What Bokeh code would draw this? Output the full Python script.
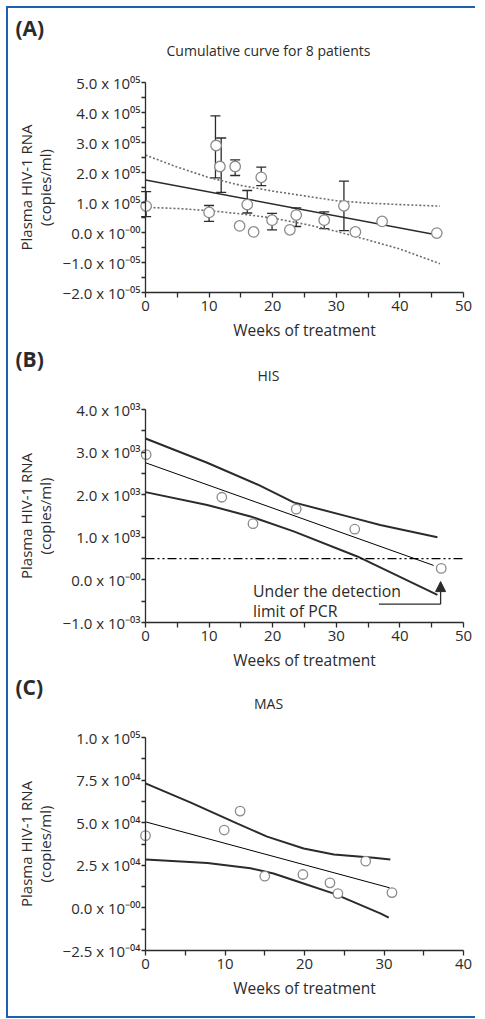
from bokeh.plotting import figure
from bokeh.models import (ColumnDataSource, Whisker, TeeHead, FixedTicker, Label,
                          Arrow, NormalHead, Range1d)
from bokeh.layouts import column
from bokeh.embed import file_html
from bokeh.resources import INLINE

FONT = "Open Sans"
INK = "#2b2b2b"
BLUE = "#1f5fad"
MARK = "#8a8a8a"

# ---------------- Panel A: cumulative curve for 8 patients ----------------
a_weeks = [0.1, 10.0, 11.1, 11.7, 14.1, 14.8, 16.0, 17.0, 18.2, 19.9, 22.7, 23.7,
           28.1, 31.2, 33.0, 37.2, 45.8]
a_rna = [0.88e5, 0.67e5, 2.90e5, 2.20e5, 2.20e5, 0.22e5, 0.93e5, 0.02e5, 1.84e5,
         0.41e5, 0.09e5, 0.58e5, 0.41e5, 0.89e5, 0.02e5, 0.37e5, -0.02e5]
a_err_weeks = [0.1, 10.0, 11.0, 11.9, 14.1, 16.0, 18.2, 19.9, 23.7, 28.1, 31.2]
a_err_upper = [1.36e5, 0.90e5, 3.89e5, 3.15e5, 2.42e5, 1.40e5, 2.18e5, 0.64e5, 0.82e5, 0.69e5, 1.71e5]
a_err_lower = [0.53e5, 0.37e5, 1.82e5, 1.34e5, 1.90e5, 0.65e5, 1.56e5, 0.09e5, 0.20e5, 0.13e5, 0.06e5]
a_fit_weeks = [0, 46.3]
a_fit_rna = [1.75e5, -0.10e5]
a_band_weeks = [0, 5, 10, 15, 20, 25, 30, 35, 40, 46.3]
a_upper_rna = [2.58e5, 2.18e5, 1.83e5, 1.57e5, 1.38e5, 1.22e5, 1.06e5, 0.98e5, 0.93e5, 0.88e5]
a_lower_rna = [0.84e5, 0.80e5, 0.73e5, 0.62e5, 0.48e5, 0.28e5, 0.04e5, -0.25e5, -0.55e5, -1.04e5]
a_xticks = [0, 10, 20, 30, 40, 50]
a_yticks = [-2e5, -1e5, 0, 1e5, 2e5, 3e5, 4e5, 5e5]
a_ytick_labels = ["−2.0 x 10⁻⁰⁵", "−1.0 x 10⁻⁰⁵", "0.0 x 10⁻⁰⁰", "1.0 x 10⁰⁵",
                  "2.0 x 10⁰⁵", "3.0 x 10⁰⁵", "4.0 x 10⁰⁵", "5.0 x 10⁰⁵"]

# ---------------- Panel B: HIS ----------------
b_weeks = [0.1, 12.0, 16.9, 23.7, 32.9, 46.5]
b_rna = [2.94e3, 1.94e3, 1.32e3, 1.66e3, 1.19e3, 0.27e3]
b_fit_weeks = [0, 45.3]
b_fit_rna = [2.75e3, 0.34e3]
b_upper_weeks = [0, 9.7, 17.6, 23.3, 32.8, 36.9, 45.9]
b_upper_rna = [3.32e3, 2.75e3, 2.24e3, 1.82e3, 1.45e3, 1.29e3, 1.00e3]
b_lower_weeks = [0, 9.7, 16.5, 23.3, 33.3, 45.9]
b_lower_rna = [2.06e3, 1.76e3, 1.49e3, 1.14e3, 0.55e3, -0.35e3]
pcr_limit_weeks = [0, 50]
pcr_limit_rna = [500, 500]
pcr_note_weeks = [36.7, 46.4]
pcr_note_rna = [-570, -40]
pcr_note_text = ["Under the detection", "limit of PCR"]
pcr_note_text_rna = [-250, -720]
pcr_note_text_week = 16.9
b_xticks = [0, 10, 20, 30, 40, 50]
b_yticks = [-1e3, 0, 1e3, 2e3, 3e3, 4e3]
b_ytick_labels = ["−1.0 x 10⁻⁰³", "0.0 x 10⁻⁰⁰", "1.0 x 10⁰³", "2.0 x 10⁰³",
                  "3.0 x 10⁰³", "4.0 x 10⁰³"]

# ---------------- Panel C: MAS ----------------
c_weeks = [0.0, 9.9, 11.9, 15.0, 19.8, 23.2, 24.2, 27.7, 31.0]
c_rna = [4.24e4, 4.57e4, 5.68e4, 1.86e4, 1.96e4, 1.47e4, 0.84e4, 2.74e4, 0.90e4]
c_fit_weeks = [0, 30.7]
c_fit_rna = [5.05e4, 1.18e4]
c_upper_weeks = [0, 5.7, 11.5, 15.3, 19.9, 23.7, 28.7, 30.8]
c_upper_rna = [7.31e4, 6.18e4, 4.96e4, 4.18e4, 3.49e4, 3.14e4, 2.94e4, 2.84e4]
c_lower_weeks = [0, 7.8, 13.2, 16.1, 19.5, 23.7, 29.6, 30.6]
c_lower_rna = [2.84e4, 2.63e4, 2.33e4, 2.02e4, 1.49e4, 0.84e4, -0.34e4, -0.57e4]
c_xticks = [0, 10, 20, 30, 40]
c_yticks = [-2.5e4, 0, 2.5e4, 5e4, 7.5e4, 1e5]
c_ytick_labels = ["−2.5 x 10⁻⁰⁴", "0.0 x 10⁻⁰⁰", "2.5 x 10⁰⁴", "5.0 x 10⁰⁴",
                  "7.5 x 10⁰⁴", "1.0 x 10⁰⁵"]

X_LABEL = "Weeks of treatment"
Y_LABEL = "Plasma HIV-1 RNA\n(copies/ml)"

# ---------------- layout (page pixels) ----------------
FIG_W = 467
PAGE_LEFT = 8          # page x of the figures' left edge
X0_PAGE = 145          # page x of week 0 (y axis)
XL_PAGE = 463          # page x of the last x tick


def midpoints(v):
    return [(a + b) / 2 for a, b in zip(v[:-1], v[1:])]


def make_panel(canvas_top, height, y_top_page, y_bot_page, xticks, yticks, ylabels,
               tag, title):
    x_last = xticks[-1]
    ymin, ymax = yticks[0], yticks[-1]

    def xd(px):
        return (px - X0_PAGE) * x_last / (XL_PAGE - X0_PAGE)

    def yd(py):
        return ymin + (y_bot_page - py) * (ymax - ymin) / (y_bot_page - y_top_page)

    p = figure(width=FIG_W, height=height,
               x_range=Range1d(xd(PAGE_LEFT), xd(PAGE_LEFT + FIG_W)),
               y_range=Range1d(yd(canvas_top + height), yd(canvas_top)),
               min_border=0, title_location=None,
               toolbar_location=None, output_backend="svg")
    p.grid.visible = False
    p.outline_line_color = None
    p.background_fill_color = "white"
    p.border_fill_color = "white"

    xa = p.xaxis[0]
    ya = p.yaxis[0]
    xa.ticker = FixedTicker(ticks=xticks, minor_ticks=midpoints(xticks))
    xa.bounds = (0, x_last)
    xa.fixed_location = ymin
    ya.ticker = FixedTicker(ticks=yticks, minor_ticks=midpoints(yticks))
    ya.bounds = (ymin, ymax)
    ya.fixed_location = 0
    ya.major_label_overrides = {float(t): lab for t, lab in zip(yticks, ylabels)}
    xa.axis_label = X_LABEL
    ya.axis_label = Y_LABEL
    for ax in (xa, ya):
        ax.axis_line_color = INK
        ax.axis_line_width = 1.3
        ax.major_tick_line_color = INK
        ax.major_tick_line_width = 1.3
        ax.minor_tick_line_color = INK
        ax.minor_tick_line_width = 1.3
        ax.major_tick_in = 0
        ax.minor_tick_in = 0
        ax.major_label_text_font = FONT
        ax.major_label_text_font_size = "15px"
        ax.major_label_text_color = INK
        ax.axis_label_text_font = FONT
        ax.axis_label_text_font_size = "15.5px"
        ax.axis_label_text_font_style = "normal"
        ax.axis_label_text_color = INK
    xa.major_tick_out = 5
    xa.minor_tick_out = 5
    xa.major_label_standoff = 3
    xa.axis_label_standoff = 5
    ya.major_tick_out = 4
    ya.minor_tick_out = 4
    ya.major_label_standoff = 1
    ya.axis_label_standoff = 5
    ya.axis_label_text_font_size = "15px"
    ya.axis_label_text_line_height = 0.95

    # panel letter and panel title (positions given in page pixels)
    p.add_layout(Label(x=xd(15), y=yd(canvas_top + tag[1]), text=tag[0],
                       text_font=FONT, text_font_style="bold", text_font_size="21px",
                       text_color=INK, text_baseline="top", text_align="left"))
    p.add_layout(Label(x=xd(268), y=yd(canvas_top + title[1]), text=title[0],
                       text_font=FONT, text_font_size="14px", text_color=INK,
                       text_baseline="middle", text_align="center"))
    return p


def open_circles(p, x, y, size):
    p.scatter(x=x, y=y, marker="circle", size=size, fill_color="white",
              line_color=MARK, line_width=1.3)


# ---------------- Panel A ----------------
pA = make_panel(8, 336, 82, 292, a_xticks, a_yticks, a_ytick_labels,
                ("(A)", 5), ("Cumulative curve for 8 patients", 42))
pA.line(a_band_weeks, a_upper_rna, line_color="#6e6e6e", line_width=1.6, line_dash="2 2")
pA.line(a_band_weeks, a_lower_rna, line_color="#6e6e6e", line_width=1.6, line_dash="2 2")
pA.line(a_fit_weeks, a_fit_rna, line_color=INK, line_width=1.4)
err_src = ColumnDataSource(dict(x=a_err_weeks, upper=a_err_upper, lower=a_err_lower))
pA.add_layout(Whisker(source=err_src, base="x", upper="upper", lower="lower",
                      line_color=INK, line_width=1.3,
                      upper_head=TeeHead(size=10, line_color=INK, line_width=1.3),
                      lower_head=TeeHead(size=10, line_color=INK, line_width=1.3)))
open_circles(pA, a_weeks, a_rna, 10.5)

# ---------------- Panel B ----------------
pB = make_panel(344, 328, 409, 622, b_xticks, b_yticks, b_ytick_labels,
                ("(B)", 0), ("HIS", 31))
pB.line(b_upper_weeks, b_upper_rna, line_color=INK, line_width=2)
pB.line(b_lower_weeks, b_lower_rna, line_color=INK, line_width=2)
pB.line(b_fit_weeks, b_fit_rna, line_color="black", line_width=1)
pB.line(pcr_limit_weeks, pcr_limit_rna, line_color="black", line_width=1.2,
        line_dash="9 3 2 3 2 3")
pB.line(pcr_note_weeks, [pcr_note_rna[0]] * 2, line_color=INK, line_width=1.3)
pB.add_layout(Arrow(x_start=pcr_note_weeks[1], y_start=pcr_note_rna[0],
                    x_end=pcr_note_weeks[1], y_end=pcr_note_rna[1],
                    line_color=INK, line_width=1.3,
                    end=NormalHead(size=10, fill_color=INK, line_color=INK)))
for txt, yv in zip(pcr_note_text, pcr_note_text_rna):
    pB.add_layout(Label(x=pcr_note_text_week, y=yv, text=txt, text_font=FONT,
                        text_font_size="15.8px", text_color=INK,
                        text_baseline="alphabetic"))
open_circles(pB, b_weeks, b_rna, 9.5)

# ---------------- Panel C ----------------
pC = make_panel(672, 344, 737, 950, c_xticks, c_yticks, c_ytick_labels,
                ("(C)", 0), ("MAS", 31))
pC.line(c_upper_weeks, c_upper_rna, line_color=INK, line_width=2)
pC.line(c_lower_weeks, c_lower_rna, line_color=INK, line_width=2)
pC.line(c_fit_weeks, c_fit_rna, line_color="black", line_width=1)
open_circles(pC, c_weeks, c_rna, 9.5)

border = f"2px solid {BLUE}"
layout = column(pA, pB, pC, spacing=0,
                styles={"margin": "6px 0 0 6px", "border-top": border,
                        "border-left": border, "border-bottom": border})

open("out.html", "w").write(file_html(layout, INLINE))
